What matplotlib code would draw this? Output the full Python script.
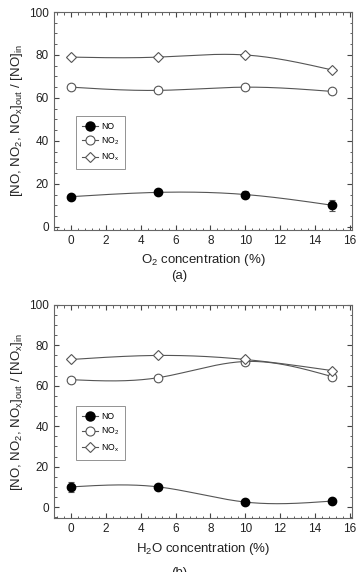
import numpy as np
import matplotlib
matplotlib.use("Agg")
import matplotlib.pyplot as plt
from matplotlib.ticker import MultipleLocator

plt.rcParams['font.family'] = ['Liberation Sans', 'DejaVu Sans']
plt.rcParams['mathtext.fontset'] = 'custom'
plt.rcParams['mathtext.rm'] = 'Liberation Sans'
plt.rcParams['mathtext.it'] = 'Liberation Sans'

conc = [0, 5, 10, 15]

# (a) O2 concentration
o2_no = [14, 16, 15, 10]
o2_no_err = [0.8, 0.8, 1.8, 2.5]
o2_no2 = [65, 63.5, 65, 63]
o2_nox = [79, 79, 80, 73]

# (b) H2O concentration
h2o_no = [10, 10, 2.5, 3]
h2o_no_err = [2.5, 0.8, 0.6, 0.6]
h2o_no2 = [63, 64, 72, 64.5]
h2o_nox = [73, 75, 73, 67.5]

LC = '#555555'


def spline(x, y, n=200):
    # natural cubic spline through the points, for a smooth connecting line
    x = np.asarray(x, float); y = np.asarray(y, float)
    k = len(x); h = np.diff(x)
    A = np.zeros((k, k)); b = np.zeros(k)
    A[0, 0] = A[-1, -1] = 1
    for i in range(1, k - 1):
        A[i, i - 1] = h[i - 1]; A[i, i] = 2 * (h[i - 1] + h[i]); A[i, i + 1] = h[i]
        b[i] = 6 * ((y[i + 1] - y[i]) / h[i] - (y[i] - y[i - 1]) / h[i - 1])
    M = np.linalg.solve(A, b)
    xs = np.linspace(x[0], x[-1], n)
    idx = np.clip(np.searchsorted(x, xs) - 1, 0, k - 2)
    x0, x1 = x[idx], x[idx + 1]; hh = x1 - x0
    ys = (M[idx] * (x1 - xs) ** 3 / (6 * hh) + M[idx + 1] * (xs - x0) ** 3 / (6 * hh)
          + (y[idx] / hh - M[idx] * hh / 6) * (x1 - xs)
          + (y[idx + 1] / hh - M[idx + 1] * hh / 6) * (xs - x0))
    return xs, ys


def panel(ax, no, no_err, no2, nox, ylabel, xlabel, ymin):
    for vals in (nox, no2, no):
        xs, ys = spline(conc, vals)
        ax.plot(xs, ys, color=LC, lw=0.8, zorder=2)
    ax.errorbar(conc, no, yerr=no_err, fmt='none', ecolor=LC, elinewidth=0.8, capsize=2, capthick=0.8, zorder=3)
    ax.plot(conc, no, 'o', ms=6, mfc='black', mec='black', zorder=4)
    ax.plot(conc, no2, 'o', ms=6.2, mfc='white', mec=LC, mew=0.8, zorder=4)
    ax.plot(conc, nox, 'D', ms=5.2, mfc='white', mec=LC, mew=0.8, zorder=4)
    # legend proxies
    h1, = ax.plot([], [], 'o-', color=LC, lw=0.8, ms=6.5, mfc='black', mec='black')
    h2, = ax.plot([], [], 'o-', color=LC, lw=0.8, ms=6.5, mfc='white', mec=LC, mew=0.8)
    h3, = ax.plot([], [], 'D-', color=LC, lw=0.8, ms=5.5, mfc='white', mec=LC, mew=0.8)
    ax.legend([h1, h2, h3], ['NO', 'NO$_2$', 'NO$_x$'], loc='upper left',
              bbox_to_anchor=(0.075, 0.525), fontsize=6.2, frameon=True, fancybox=False,
              edgecolor='#777777', handlelength=1.8, borderpad=0.7, labelspacing=0.55,
              handletextpad=0.4, borderaxespad=0).get_frame().set_linewidth(0.7)
    ax.set_xlim(-1, 16.15)
    ax.set_ylim(ymin, 100)
    ax.xaxis.set_major_locator(MultipleLocator(2))
    ax.xaxis.set_minor_locator(MultipleLocator(0.4))
    ax.yaxis.set_major_locator(MultipleLocator(20))
    ax.yaxis.set_minor_locator(MultipleLocator(5))
    ax.tick_params(which='both', direction='in', top=True, right=True, color='#444444',
                   labelsize=8.5, labelcolor='#222222')
    ax.tick_params(which='major', length=3.5, width=0.8)
    ax.tick_params(which='minor', length=1.8, width=0.6)
    for s in ax.spines.values():
        s.set_color('#666666'); s.set_linewidth(0.8)
    ax.set_xlabel(xlabel, fontsize=9.5, color='#222222', labelpad=4)
    ax.set_ylabel(ylabel, fontsize=9.5, color='#222222', labelpad=3)


fig = plt.figure(figsize=(3.59, 5.72), dpi=100)
ax1 = fig.add_axes([0.150, 0.598, 0.831, 0.381])
ax2 = fig.add_axes([0.150, 0.094, 0.831, 0.373])

panel(ax1, o2_no, o2_no_err, o2_no2, o2_nox,
      '[NO, NO$_2$, NO$_x$]$_{out}$ / [NO]$_{in}$', 'O$_2$ concentration (%)', -1.5)
panel(ax2, h2o_no, h2o_no_err, h2o_no2, h2o_nox,
      '[NO, NO$_2$, NO$_x$]$_{out}$ / [NO$_x$]$_{in}$', 'H$_2$O concentration (%)', -5.5)

fig.text(0.5, 1 - 276 / 572, '(a)', ha='center', va='center', fontsize=9.5, color='#222222')
fig.text(0.5, 1 - 567 / 572, '(b)', ha='center', va='top', fontsize=9.5, color='#222222')

fig.savefig('out.png', dpi=100)
